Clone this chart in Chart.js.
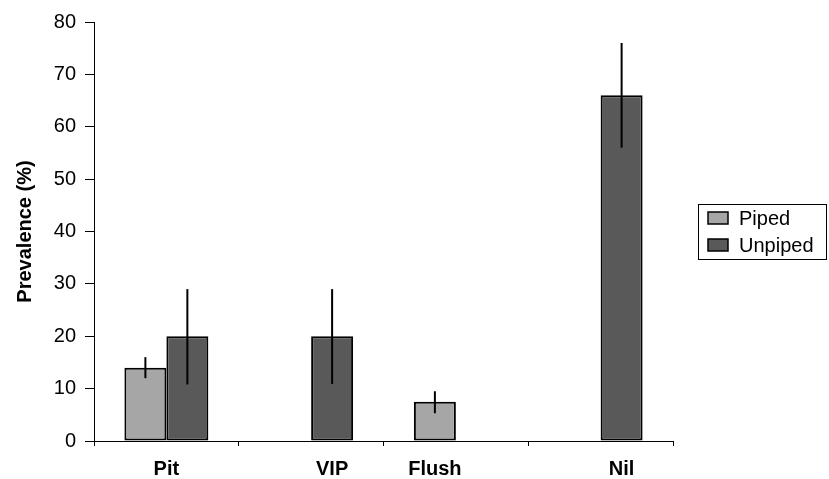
<!DOCTYPE html>
<html>
<head>
<meta charset="utf-8">
<script src="https://cdn.jsdelivr.net/npm/chart.js@4.4.1/dist/chart.umd.min.js"></script>
<style>
  html, body { margin: 0; padding: 0; background: #fff; }
  canvas { display: block; }
</style>
</head>
<body>
<canvas id="c" width="829" height="479"></canvas>
<script>
const categories = ['Pit', 'VIP', 'Flush', 'Nil'];
const seriesNames = ['Piped', 'Unpiped'];
const piped = [14, null, 7.5, null];
const unpiped = [20, 20, null, 66];
const pipedLow = [12, null, 5.3, null];
const pipedHigh = [16, null, 9.5, null];
const unpipedLow = [10.8, 10.9, null, 56];
const unpipedHigh = [29, 29, null, 76];
const yMin = 0, yMax = 80, yStep = 10;

const FONT = '"Liberation Sans", Arial, Helvetica, sans-serif';
const colors = ['#a6a6a6', '#595959'];
const lows = [pipedLow, unpipedLow];
const highs = [pipedHigh, unpipedHigh];

Chart.defaults.color = '#000';
Chart.defaults.font.family = FONT;

const errorBars = {
  id: 'errorBars',
  afterDatasetsDraw(chart) {
    const ctx = chart.ctx, y = chart.scales.y;
    ctx.save();
    ctx.strokeStyle = '#000';
    ctx.lineWidth = 2;
    chart.data.datasets.forEach((ds, di) => {
      const meta = chart.getDatasetMeta(di);
      meta.data.forEach((bar, i) => {
        if (ds.data[i] == null || lows[di][i] == null) return;
        ctx.beginPath();
        ctx.moveTo(bar.x, y.getPixelForValue(lows[di][i]));
        ctx.lineTo(bar.x, y.getPixelForValue(highs[di][i]));
        ctx.stroke();
      });
    });
    ctx.restore();
  }
};

const xLabels = {
  id: 'xLabels',
  afterDraw(chart) {
    const ctx = chart.ctx, xs = chart.scales.x;
    ctx.save();
    ctx.font = 'bold 20px ' + FONT;
    ctx.fillStyle = '#000';
    ctx.textAlign = 'center';
    ctx.textBaseline = 'middle';
    categories.forEach((lab, i) => {
      const pos = [];
      chart.data.datasets.forEach((ds, di) => {
        if (ds.data[i] != null) pos.push(chart.getDatasetMeta(di).data[i].x);
      });
      const cx = pos.length ? pos.reduce((a, b) => a + b, 0) / pos.length : xs.getPixelForValue(i);
      ctx.fillText(lab, cx, xs.bottom - 10);
    });
    ctx.restore();
  }
};

const boxLegend = {
  id: 'boxLegend',
  afterDraw(chart) {
    const ctx = chart.ctx;
    const left = 698, top = 204, w = 128, h = 55;
    ctx.save();
    ctx.strokeStyle = '#000';
    ctx.lineWidth = 1;
    ctx.strokeRect(left + 0.5, top + 0.5, w, h);
    ctx.font = '20px ' + FONT;
    ctx.textBaseline = 'middle';
    ctx.textAlign = 'left';
    chart.data.datasets.forEach((ds, di) => {
      const cy = top + 14 + di * 27;
      ctx.fillStyle = ds.backgroundColor;
      ctx.fillRect(left + 10, cy - 6, 20, 12);
      ctx.lineWidth = 1.5;
      ctx.strokeRect(left + 10, cy - 6, 20, 12);
      ctx.fillStyle = '#000';
      ctx.fillText(ds.label, left + 41, cy + 1);
    });
    ctx.restore();
  }
};

new Chart(document.getElementById('c'), {
  type: 'bar',
  data: {
    labels: categories,
    datasets: [
      { label: seriesNames[0], data: piped, backgroundColor: colors[0], borderColor: '#000', borderWidth: 2, borderSkipped: false },
      { label: seriesNames[1], data: unpiped, backgroundColor: colors[1], borderColor: '#000', borderWidth: 2, borderSkipped: false }
    ]
  },
  options: {
    responsive: false,
    animation: false,
    categoryPercentage: 0.58,
    barPercentage: 1.0,
    layout: { padding: { top: 22, right: 156, left: 0, bottom: 0 } },
    plugins: { legend: { display: false }, tooltip: { enabled: false } },
    scales: {
      x: {
        offset: true,
        grid: { drawOnChartArea: false, drawTicks: true, tickLength: 5, color: '#000', offset: true },
        border: { display: true, color: '#000', width: 1 },
        ticks: { display: false },
        afterFit(s) { s.height = 38; }
      },
      y: {
        min: yMin, max: yMax,
        grid: { drawOnChartArea: false, drawTicks: true, tickLength: 9, color: '#000' },
        border: { display: true, color: '#000', width: 1 },
        ticks: { stepSize: yStep, padding: 9, font: { size: 20, family: FONT }, color: '#000' },
        title: { display: true, text: 'Prevalence (%)', font: { size: 20, weight: 'bold', family: FONT }, color: '#000', padding: { top: 13, bottom: 0 } },
        afterFit(s) { s.width = 94; }
      }
    }
  },
  plugins: [errorBars, xLabels, boxLegend]
});
</script>
</body>
</html>
